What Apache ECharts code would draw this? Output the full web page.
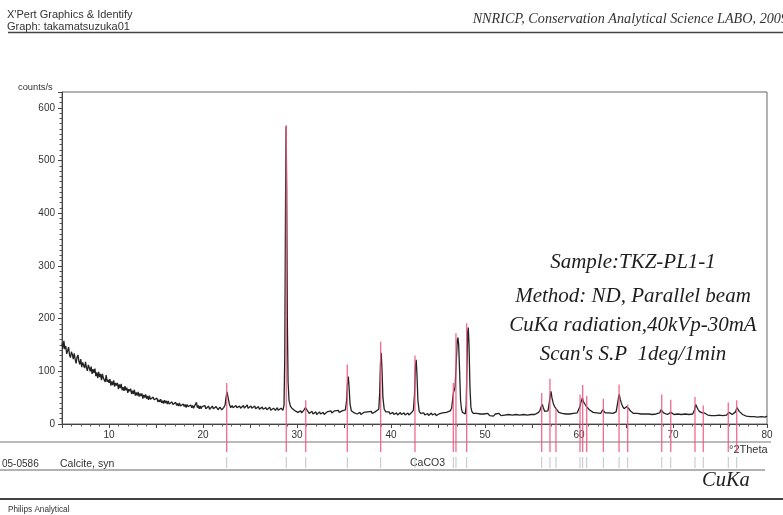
<!DOCTYPE html>
<html><head><meta charset="utf-8">
<script src="https://cdn.jsdelivr.net/npm/echarts@6/dist/echarts.min.js"></script>
<style>html,body{margin:0;padding:0;background:#fff}#c{width:783px;height:515px}</style>
</head><body><div id="c"></div>
<script>
const scanLow = [[5.0,153],[5.1,143],[5.2,158],[5.3,142],[5.4,148],[5.5,133],[5.6,139],[5.7,146],[5.8,131],[5.9,126],[6.0,137],[6.1,132],[6.2,123],[6.3,134],[6.4,123],[6.5,115],[6.6,127],[6.7,131],[6.8,119],[6.9,113],[7.0,123],[7.1,108],[7.2,117],[7.3,114],[7.4,106],[7.5,118],[7.6,107],[7.7,101],[7.8,112],[7.9,107],[8.0,100],[8.1,109],[8.2,95],[8.3,104],[8.4,97],[8.5,105],[8.6,91],[8.7,98],[8.8,87],[8.9,99],[9.0,89],[9.1,95],[9.2,83],[9.3,95],[9.4,87],[9.5,90],[9.6,80],[9.7,93],[9.8,80],[9.9,84],[10.0,78],[10.1,85],[10.2,73],[10.3,81],[10.4,74],[10.5,83],[10.6,71],[10.7,78],[10.8,73],[10.9,78],[11.0,66],[11.1,75],[11.2,68],[11.3,76],[11.4,64],[11.5,70],[11.6,63],[11.7,72],[11.8,64],[11.9,69],[12.0,59],[12.1,66],[12.2,62],[12.3,67],[12.4,57],[12.5,63],[12.6,57],[12.7,65],[12.8,54],[12.9,60],[13.0,54],[13.1,61],[13.2,52],[13.3,58],[13.4,53],[13.5,58],[13.6,48],[13.7,55],[13.8,50],[13.9,56],[14.0,48],[14.1,53],[14.2,46],[14.3,54],[14.4,47],[14.5,50],[14.6,44],[14.7,51],[14.8,46],[14.9,49],[15.0,43],[15.1,49],[15.2,42],[15.3,46],[15.4,42],[15.5,47],[15.6,40],[15.7,44],[15.8,39],[15.9,45],[16.0,40],[16.1,44],[16.2,38],[16.3,44],[16.4,38],[16.5,41],[16.6,36],[16.7,42],[16.8,37],[16.9,40],[17.0,35],[17.1,41],[17.2,35],[17.3,39],[17.4,34],[17.5,40],[17.6,34],[17.7,37],[17.8,32],[17.9,38],[18.0,33],[18.1,37],[18.2,31],[18.3,37],[18.4,33],[18.5,36],[18.6,30],[18.7,36],[18.8,31],[18.9,35],[19.0,30],[19.1,34],[19.2,37],[19.3,41],[19.4,31],[19.5,35],[19.6,29],[19.7,34],[19.8,29],[19.9,33]];
const scanMid = [[20.0,30],[20.1,33],[20.2,35],[20.3,29],[20.4,31],[20.6,34],[20.7,28],[20.8,30],[21.0,34],[21.1,29],[21.2,27],[21.4,33],[21.5,30],[21.6,27],[21.8,32],[21.9,29],[22.0,27],[22.2,31],[22.35,36],[22.45,50],[22.55,61],[22.65,52],[22.8,38],[22.95,31],[23.1,35],[23.2,31],[23.3,29],[23.5,35],[23.6,31],[23.7,28],[23.9,34],[24.0,30],[24.1,32],[24.3,35],[24.4,30],[24.5,33],[24.7,36],[24.8,30],[24.9,29],[25.1,34],[25.2,30],[25.3,28],[25.5,34],[25.6,29],[25.7,31],[25.9,33],[26.0,28],[26.1,27],[26.3,32],[26.4,28],[26.5,26],[26.7,31],[26.8,27],[26.9,29],[27.1,32],[27.2,26],[27.3,25],[27.5,30],[27.6,27],[27.7,26],[27.9,31],[28.0,26],[28.1,25],[28.3,30],[28.4,27],[28.5,26],[28.62,36],[28.7,130],[28.78,420],[28.84,565],[28.9,450],[28.97,200],[29.05,80],[29.15,45],[29.3,34],[29.45,30],[29.6,27],[29.8,25],[30.0,27],[30.1,22],[30.2,24],[30.4,25],[30.5,21],[30.6,23],[30.75,27],[30.9,31],[31.05,27],[31.2,24],[31.3,20],[31.4,22],[31.6,24],[31.7,19],[31.8,21],[32.0,23],[32.1,18],[32.2,20],[32.4,23],[32.5,19],[32.6,21],[32.8,22],[32.9,18],[33.0,20],[33.2,23],[33.3,20],[33.4,22],[33.6,25],[33.7,21],[33.8,22],[34.0,25],[34.1,22],[34.2,23],[34.4,26],[34.5,22],[34.6,24],[34.8,25],[34.9,22],[35.0,24],[35.15,27],[35.28,45],[35.38,80],[35.46,90],[35.54,70],[35.64,38],[35.78,25],[35.95,22],[36.1,21],[36.3,23],[36.4,19],[36.5,20],[36.7,22],[36.8,18],[36.9,19],[37.1,22],[37.2,19],[37.3,20],[37.5,23],[37.6,20],[37.7,21],[37.9,24],[38.0,20],[38.1,21],[38.3,23],[38.4,20],[38.5,22],[38.7,28],[38.8,60],[38.88,115],[38.96,135],[39.04,105],[39.14,50],[39.28,28],[39.45,23],[39.6,21],[39.8,23],[39.9,19],[40.0,19],[40.2,22],[40.3,18],[40.4,20],[40.6,21],[40.7,17],[40.8,18],[41.0,22],[41.1,18],[41.2,19],[41.4,21],[41.5,17],[41.6,18],[41.8,21],[41.9,17],[42.0,19],[42.2,22],[42.38,26],[42.5,55],[42.6,110],[42.68,122],[42.76,95],[42.86,45],[43.0,24],[43.15,20],[43.3,18],[43.5,21],[43.6,17],[43.7,18],[43.9,20],[44.0,16],[44.1,17],[44.3,21],[44.4,17],[44.5,18],[44.7,20],[44.8,16],[44.9,17],[45.1,19],[45.2,16],[45.3,18],[45.5,21],[45.6,18],[45.7,19],[45.9,22],[46.0,19],[46.1,21],[46.3,25],[46.45,30],[46.55,45],[46.63,58],[46.72,55],[46.82,70],[46.95,120],[47.05,158],[47.12,164],[47.2,150],[47.3,100],[47.4,45],[47.5,28],[47.6,22],[47.7,20],[47.8,21],[47.9,19],[48.0,35],[48.08,110],[48.16,175],[48.22,183],[48.3,150],[48.4,70],[48.5,32],[48.6,24],[48.75,20],[48.9,18]];
const scanHigh = [[49.1,20],[49.3,17],[49.5,19],[49.7,16],[49.9,19],[50.1,17],[50.3,20],[50.5,16],[50.7,18],[50.9,15],[51.1,19],[51.3,17],[51.5,20],[51.7,16],[51.9,19],[52.1,17],[52.3,20],[52.5,18],[52.7,21],[52.9,17],[53.1,20],[53.3,18],[53.5,21],[53.7,17],[53.9,20],[54.1,18],[54.3,21],[54.5,17],[54.7,20],[54.9,18],[55.1,21],[55.3,18],[55.5,20],[55.7,22],[55.85,26],[55.98,33],[56.1,37],[56.2,31],[56.35,24],[56.5,22],[56.7,25],[56.85,42],[56.95,55],[57.02,62],[57.12,50],[57.25,40],[57.4,33],[57.55,30],[57.7,26],[57.85,22],[58.0,19],[58.2,20],[58.4,17],[58.6,19],[58.8,17],[59.0,19],[59.2,17],[59.4,20],[59.6,18],[59.8,21],[60.0,24],[60.1,33],[60.2,41],[60.3,46],[60.36,50],[60.45,43],[60.55,44],[60.65,37],[60.8,33],[60.95,30],[61.1,27],[61.3,24],[61.5,22],[61.7,20],[61.9,21],[62.1,18],[62.3,20],[62.42,23],[62.52,27],[62.65,24],[62.8,21],[63.0,19],[63.2,21],[63.4,18],[63.6,20],[63.8,19],[63.95,23],[64.1,38],[64.2,50],[64.28,56],[64.38,47],[64.5,40],[64.65,33],[64.8,29],[64.95,28],[65.08,33],[65.16,34],[65.3,29],[65.45,25],[65.6,23],[65.8,20],[66.0,18],[66.2,20],[66.4,17],[66.6,19],[66.8,16],[67.0,19],[67.2,17],[67.4,19],[67.6,16],[67.8,18],[68.0,17],[68.2,19],[68.4,18],[68.58,21],[68.72,27],[68.85,24],[69.0,21],[69.2,19],[69.4,18],[69.6,19],[69.78,22],[69.92,20],[70.1,18],[70.3,17],[70.5,19],[70.7,16],[70.9,18],[71.1,16],[71.3,19],[71.5,17],[71.7,18],[71.9,16],[72.1,19],[72.28,26],[72.42,37],[72.52,33],[72.65,28],[72.8,24],[72.95,22],[73.1,21],[73.2,24],[73.35,21],[73.5,19],[73.7,17],[73.9,19],[74.1,16],[74.3,18],[74.5,16],[74.7,19],[74.9,17],[75.1,18],[75.3,16],[75.5,18],[75.7,17],[75.85,19],[75.96,22],[76.1,19],[76.3,18],[76.5,19],[76.65,23],[76.8,31],[76.92,28],[77.05,24],[77.2,21],[77.4,18],[77.6,17],[77.8,15],[78.0,17],[78.2,14],[78.4,16],[78.6,14],[78.8,16],[79.0,13],[79.2,15],[79.4,14],[79.6,16],[79.8,13],[80.0,15]];

// Reference pattern 05-0586 Calcite, syn (stick positions and drawn heights)
const refTheta  = [22.52,28.86,30.93,35.35,38.90,42.55,46.63,46.91,48.05,56.03,56.91,57.55,60.11,60.39,60.82,62.59,64.26,65.18,68.80,69.76,72.34,73.22,75.88,76.78];
const refHeight = [78,567,45,113,156,130,78,172,191,59,86,30,56,74,53,48,75,37,56,46,51,35,41,45];

const annotation = ['Sample:TKZ-PL1-1','Method: ND, Parallel beam','CuKa radiation,40kVp-30mA',"Scan's S.P  1deg/1min"];

const scan = scanLow.concat(scanMid, scanHigh);
const refData = refTheta.map((t, i) => [t, refHeight[i]]);

const sans = '"Liberation Sans", Arial, sans-serif';
const serif = '"Liberation Serif", "Times New Roman", serif';

const chart = echarts.init(document.getElementById('c'), null, {renderer: 'canvas'});

const annLines = annotation.map((t, i) => ({
  type: 'text', z: 10,
  style: {text: t, x: 633, y: [262, 296, 325, 354][i], textAlign: 'center', textVerticalAlign: 'middle',
          font: 'italic 21px ' + serif, fill: '#1e1e1e'}
}));

chart.setOption({
  animation: false,
  backgroundColor: '#fff',
  grid: {left: 62, top: 92, width: 705, height: 332, show: true, borderColor: '#666', borderWidth: 1},
  xAxis: {
    type: 'value', min: 5, max: 80, interval: 5,
    axisLine: {lineStyle: {color: '#444', width: 1}},
    axisTick: {show: true, length: 4, lineStyle: {color: '#444'}},
    minorTick: {show: true, splitNumber: 5, length: 2.5, lineStyle: {color: '#555'}},
    splitLine: {show: false},
    axisLabel: {margin: 6, fontSize: 10, fontFamily: sans, color: '#333',
      formatter: v => (v % 10 === 0 && v > 5) ? String(v) : ''}
  },
  yAxis: {
    type: 'value', min: 0, max: 630, interval: 100,
    axisLine: {show: true, lineStyle: {color: '#444', width: 1}},
    axisTick: {show: true, length: 4, lineStyle: {color: '#444'}},
    minorTick: {show: true, splitNumber: 10, length: 2.5, lineStyle: {color: '#555'}},
    splitLine: {show: false},
    axisLabel: {margin: 7, fontSize: 10, fontFamily: sans, color: '#333',
      formatter: v => (v % 100 === 0) ? String(v) : ''}
  },
  series: [
    {type: 'line', data: scan, showSymbol: false, symbol: 'none', z: 2,
     lineStyle: {color: '#222', width: 1.3}},
    {type: 'custom', data: refData, clip: false, z: 3,
     renderItem: (params, api) => {
       const top = api.coord([api.value(0), api.value(1)]);
       const base = api.coord([api.value(0), 0]);
       return {type: 'group', children: [
         {type: 'line', shape: {x1: top[0], y1: top[1], x2: top[0], y2: base[1] + 28},
          style: {stroke: '#ef5a82', lineWidth: 1.3, opacity: 0.9}},
         {type: 'line', shape: {x1: top[0], y1: base[1] + 33, x2: top[0], y2: base[1] + 44},
          style: {stroke: '#c4c4c4', lineWidth: 1}}
       ]};
     }}
  ],
  graphic: [
    {type: 'text', style: {text: "X'Pert Graphics & Identify", x: 7, y: 15, textVerticalAlign: 'middle', font: '11px ' + sans, fill: '#333'}},
    {type: 'text', style: {text: 'Graph: takamatsuzuka01', x: 7, y: 27, textVerticalAlign: 'middle', font: '11px ' + sans, fill: '#333'}},
    {type: 'line', shape: {x1: 8, y1: 32.5, x2: 783, y2: 32.5}, style: {stroke: '#444', lineWidth: 1.5}},
    {type: 'text', style: {text: 'NNRICP, Conservation Analytical Science LABO, 2009', x: 788, y: 19, textAlign: 'right', textVerticalAlign: 'middle', font: 'italic 14.2px ' + serif, fill: '#333'}},
    {type: 'text', style: {text: 'counts/s', x: 18, y: 87, textVerticalAlign: 'middle', font: '9.3px ' + sans, fill: '#333'}},
    {type: 'line', shape: {x1: 0, y1: 442, x2: 771, y2: 442}, style: {stroke: '#777', lineWidth: 1}},
    {type: 'text', style: {text: '°2Theta', x: 729, y: 450, textVerticalAlign: 'middle', font: '11px ' + sans, fill: '#333'}},
    {type: 'text', style: {text: '05-0586', x: 2, y: 464, textVerticalAlign: 'middle', font: '10px ' + sans, fill: '#333'}},
    {type: 'text', style: {text: 'Calcite, syn', x: 60, y: 464, textVerticalAlign: 'middle', font: '10.5px ' + sans, fill: '#333'}},
    {type: 'text', style: {text: 'CaCO3', x: 410, y: 463, textVerticalAlign: 'middle', font: '10.5px ' + sans, fill: '#333'}},
    {type: 'line', shape: {x1: 0, y1: 470, x2: 765, y2: 470}, style: {stroke: '#666', lineWidth: 1}},
    {type: 'text', style: {text: 'CuKa', x: 702, y: 481, textVerticalAlign: 'middle', font: 'italic 20.5px ' + serif, fill: '#222'}},
    {type: 'line', shape: {x1: 0, y1: 499, x2: 783, y2: 499}, style: {stroke: '#444', lineWidth: 2}},
    {type: 'text', style: {text: 'Philips Analytical', x: 8, y: 510, textVerticalAlign: 'middle', font: '8.2px ' + sans, fill: '#333'}}
  ].concat(annLines)
});
</script></body></html>
